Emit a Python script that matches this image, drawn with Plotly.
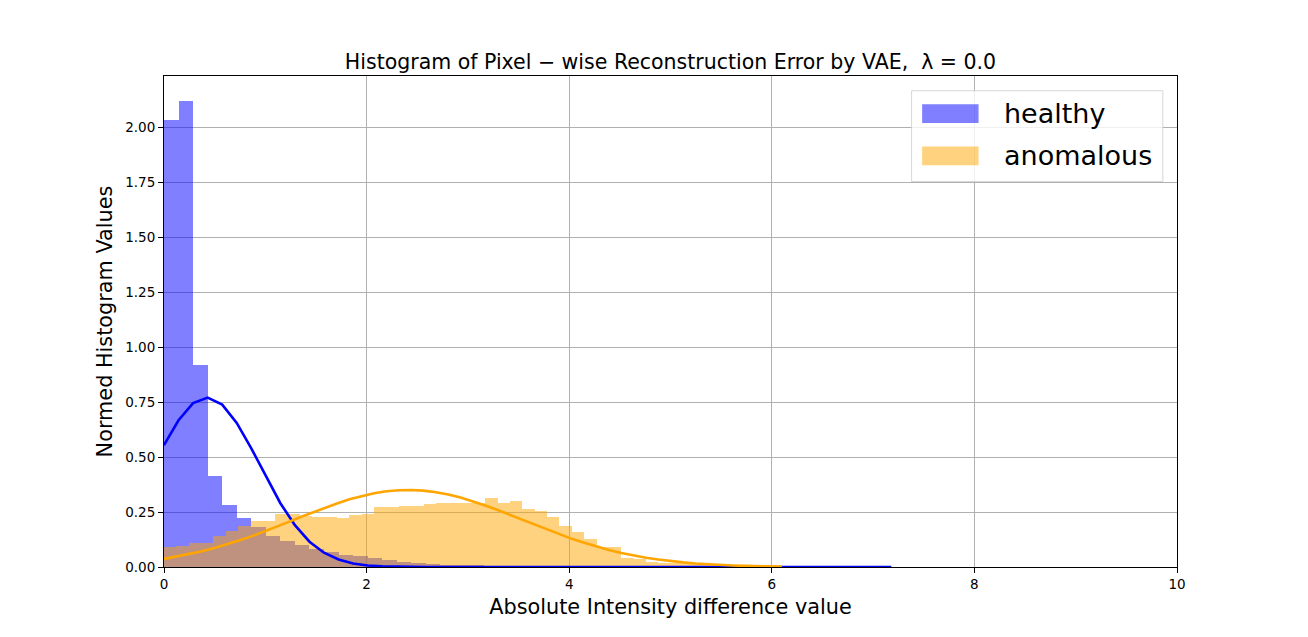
"""Histogramme de l'erreur de reconstruction pixel par pixel (VAE)"""
import plotly.graph_objects as go

# bornes des histogrammes (50 classes chacun)
healthy_max = 7.18
anomalous_max = 6.1
n_bins = 50

# hauteurs normalisees
healthy_hist = [2.03, 2.12, 0.918, 0.414, 0.282, 0.222, 0.181, 0.143, 0.117, 0.100,
                0.084, 0.068, 0.056, 0.048, 0.041, 0.032, 0.025, 0.020, 0.015, 0.011,
                0.009, 0.007, 0.005, 0.004, 0.003, 0.002, 0.002, 0.001, 0.001, 0.001,
                0.001, 0.001, 0.0, 0.0, 0.0, 0.0, 0.0, 0.0, 0.0, 0.0,
                0.0, 0.0, 0.0, 0.0, 0.0, 0.0, 0.0, 0.0, 0.0, 0.0]
anomalous_hist = [0.092, 0.097, 0.107, 0.110, 0.142, 0.164, 0.186, 0.209, 0.209, 0.241,
                  0.241, 0.232, 0.229, 0.226, 0.223, 0.235, 0.242, 0.273, 0.273, 0.277,
                  0.277, 0.285, 0.291, 0.291, 0.290, 0.290, 0.315, 0.292, 0.301, 0.264,
                  0.256, 0.227, 0.186, 0.159, 0.129, 0.092, 0.092, 0.042, 0.035, 0.024,
                  0.017, 0.017, 0.012, 0.012, 0.008, 0.006, 0.004, 0.003, 0.002, 0.001]

# courbes ajustees, relevees aux bords des classes
healthy_fit = [0.554, 0.667, 0.745, 0.770, 0.738, 0.655, 0.539, 0.411, 0.290, 0.190,
               0.115, 0.065, 0.034, 0.016, 0.007, 0.003, 0.001, 0.0005, 0.0, 0.0,
               0.0, 0.0, 0.0, 0.0, 0.0, 0.0, 0.0, 0.0, 0.0, 0.0,
               0.0, 0.0, 0.0, 0.0, 0.0, 0.0, 0.0, 0.0, 0.0, 0.0,
               0.0, 0.0, 0.0, 0.0, 0.0, 0.0, 0.0, 0.0, 0.0, 0.0, 0.0]
anomalous_fit = [0.037, 0.047, 0.058, 0.070, 0.085, 0.101, 0.119, 0.138, 0.159, 0.181,
                 0.203, 0.226, 0.248, 0.270, 0.289, 0.308, 0.323, 0.335, 0.344, 0.349,
                 0.350, 0.347, 0.340, 0.330, 0.316, 0.299, 0.280, 0.259, 0.237, 0.215,
                 0.192, 0.170, 0.148, 0.128, 0.110, 0.092, 0.077, 0.064, 0.052, 0.042,
                 0.034, 0.026, 0.021, 0.016, 0.012, 0.009, 0.007, 0.005, 0.004, 0.003, 0.002]

x_ticks = [0, 2, 4, 6, 8, 10]
y_ticks = [0.0, 0.25, 0.5, 0.75, 1.0, 1.25, 1.5, 1.75, 2.0]
labels = ["healthy", "anomalous"]

FONT = "DejaVu Sans"


def bin_edges(vmax, n):
    """bords des classes d'un histogramme regulier entre 0 et vmax"""
    w = vmax / n
    return [i * w for i in range(n + 1)], w


def main():
    h_edges, h_w = bin_edges(healthy_max, n_bins)
    a_edges, a_w = bin_edges(anomalous_max, n_bins)

    fig = go.Figure()
    fig.add_trace(go.Bar(x=h_edges[:-1], y=healthy_hist, width=h_w, offset=0,
                         marker=dict(color="rgba(0,0,255,0.5)", line_width=0),
                         name=labels[0]))
    fig.add_trace(go.Bar(x=a_edges[:-1], y=anomalous_hist, width=a_w, offset=0,
                         marker=dict(color="rgba(255,165,0,0.5)", line_width=0),
                         name=labels[1]))
    fig.add_trace(go.Scatter(x=h_edges, y=healthy_fit, mode="lines",
                             line=dict(color="blue", width=2.6)))
    fig.add_trace(go.Scatter(x=a_edges, y=anomalous_fit, mode="lines",
                             line=dict(color="orange", width=2.6)))

    axis_common = dict(showline=True, linecolor="black", linewidth=1.1, mirror=True,
                       ticks="outside", ticklen=5, tickcolor="black", tickwidth=1,
                       showgrid=True, gridcolor="#b0b0b0", gridwidth=1,
                       zeroline=False, tickfont=dict(family=FONT, size=13.5, color="black"))

    # la page ajoute 8 px de marge autour de la figure
    fig.update_layout(
        width=1300, height=629,
        margin=dict(l=156, r=131, t=68, b=70),
        paper_bgcolor="white", plot_bgcolor="white",
        barmode="overlay", bargap=0, showlegend=False,
        title=dict(text="Histogram of Pixel \u2212 wise Reconstruction Error by VAE,  \u03bb = 0.0",
                   x=(156 + 0.5 * (1300 - 156 - 131)) / 1300, xanchor="center",
                   yref="paper", y=1, yanchor="bottom", pad=dict(b=7),
                   font=dict(family=FONT, size=20.5, color="black")),
        xaxis=dict(range=[0, 10], tickvals=x_ticks,
                   title=dict(text="Absolute Intensity difference value", standoff=8,
                              font=dict(family=FONT, size=20.8, color="black")),
                   **axis_common),
        yaxis=dict(range=[0, 2.232], tickvals=y_ticks, tickformat=".2f",
                   title=dict(text="Normed Histogram Values", standoff=6,
                              font=dict(family=FONT, size=20.8, color="black")),
                   **axis_common),
    )

    # legende dessinee a la main (cadre + pastilles larges comme matplotlib)
    fig.add_shape(type="rect", xref="paper", yref="paper", x0=0.738, x1=0.986, y0=0.785, y1=0.970,
                  fillcolor="rgba(255,255,255,0.8)", line=dict(color="rgba(204,204,204,0.8)", width=1))
    swatches = [("rgba(0,0,255,0.5)", 0.9043, 0.9426, 0.9234),
                ("rgba(255,165,0,0.5)", 0.8183, 0.8566, 0.8375)]
    for lab, (col, y0, y1, yc) in zip(labels, swatches):
        fig.add_shape(type="rect", xref="paper", yref="paper", x0=0.7484, x1=0.8041, y0=y0, y1=y1,
                      fillcolor=col, line_width=0)
        fig.add_annotation(xref="paper", yref="paper", x=0.827, y=yc, text=lab, showarrow=False,
                           xanchor="left", yanchor="middle",
                           font=dict(family=FONT, size=27, color="black"))

    fig.write_html("out.html")


if __name__ == "__main__":
    main()
